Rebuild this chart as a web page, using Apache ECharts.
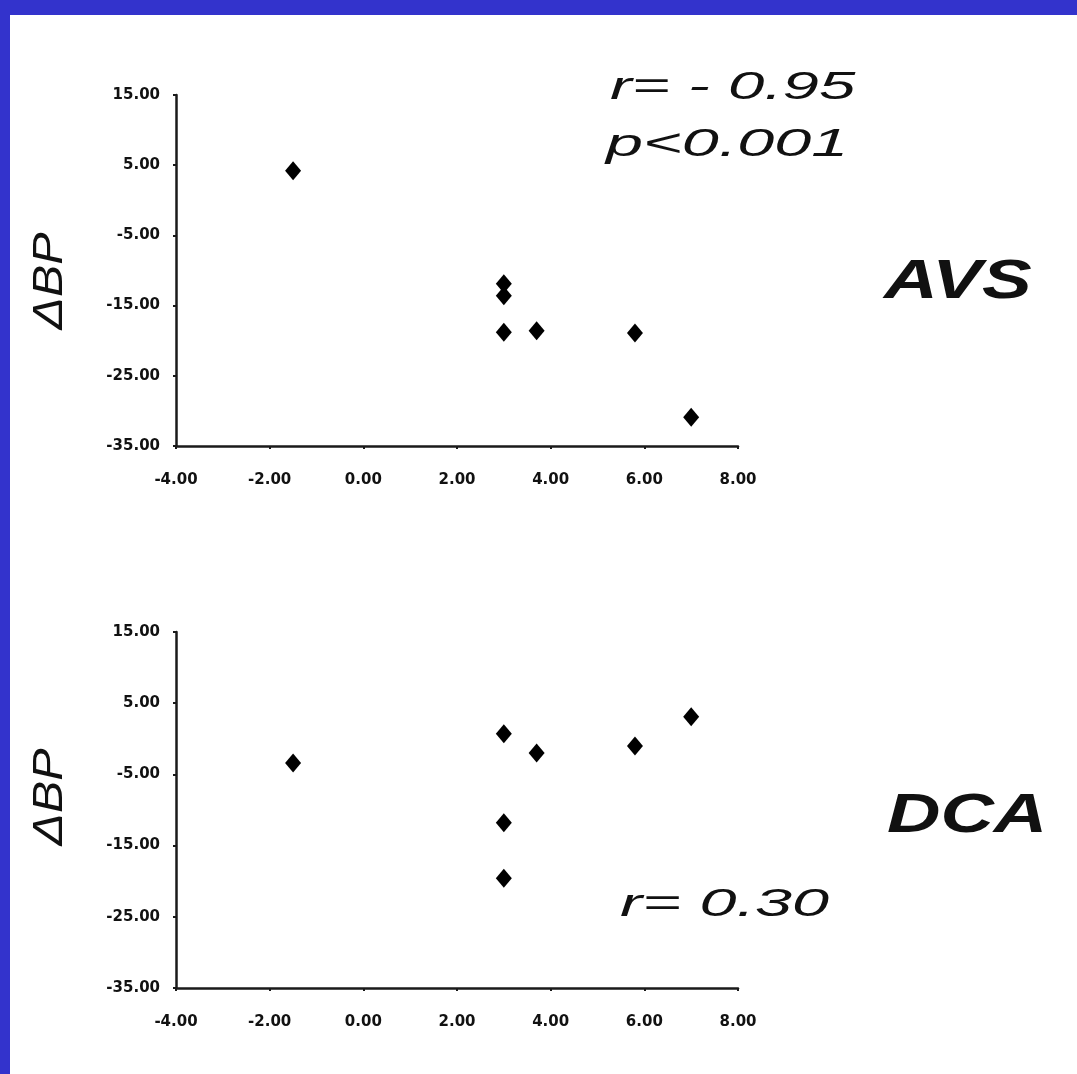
<!DOCTYPE html>
<html>
<head>
<meta charset="utf-8">
<script src="https://cdn.jsdelivr.net/npm/echarts@6/dist/echarts.min.js"></script>
<style>
html,body{margin:0;padding:0;background:#fff;}
#chart{width:1077px;height:1074px;}
</style>
</head>
<body>
<div id="chart"></div>
<script>
// ---- data ----
const xTicks = [-4, -2, 0, 2, 4, 6, 8];
const yTicks = [-35, -25, -15, -5, 5, 15];
const avsX = [-1.5, 3.0, 3.0, 3.0, 3.7, 5.8, 7.0];
const avsY = [4.2, -11.9, -13.6, -18.8, -18.6, -18.9, -30.9];
const dcaX = [-1.5, 3.0, 3.7, 5.8, 7.0, 3.0, 3.0];
const dcaY = [-3.4, 0.7, -2.0, -1.0, 3.1, -11.8, -19.6];
const yTitle = 'ΔBP';
const panelNames = ['AVS', 'DCA'];
const statsTop = ['r= - 0.95', 'p<0.001'];
const statsBottom = 'r= 0.30';

const blue = '#3333cc';
const axisColor = '#1a1a1a';
const fmt = v => Number(v).toFixed(2);

function xAxis(gi) {
  return {
    type: 'value', gridIndex: gi,
    min: xTicks[0], max: xTicks[xTicks.length - 1], interval: 2,
    axisLine: { show: true, onZero: false, lineStyle: { color: axisColor, width: 2.5 } },
    axisTick: { show: true, length: 3, lineStyle: { color: axisColor, width: 2 } },
    splitLine: { show: false },
    axisLabel: { formatter: fmt, margin: 27, color: '#111', fontFamily: 'DejaVu Sans', fontWeight: 'bold', fontSize: 15 }
  };
}
function yAxis(gi) {
  return {
    type: 'value', gridIndex: gi,
    min: yTicks[0], max: yTicks[yTicks.length - 1],
    axisLine: { show: true, onZero: false, lineStyle: { color: axisColor, width: 2.5 } },
    axisTick: { show: true, length: 3, customValues: yTicks, lineStyle: { color: axisColor, width: 2 } },
    splitLine: { show: false },
    axisLabel: { customValues: yTicks, formatter: fmt, margin: 16, color: '#111', fontFamily: 'DejaVu Sans', fontWeight: 'bold', fontSize: 15 }
  };
}
const zip = (xs, ys) => xs.map((x, i) => [x, ys[i]]);

const bigText = (text, x, y, sx, font) => ({
  type: 'text', x: x, y: y, scaleX: sx, z: 10,
  style: { text: text, font: font, fill: '#111', align: 'left', verticalAlign: 'middle' }
});
const statFont = 'italic 38px "Liberation Sans", Arial, sans-serif';
const nameFont = 'italic bold 56px "Liberation Sans", Arial, sans-serif';

const option = {
  backgroundColor: '#ffffff',
  animation: false,
  grid: [
    { left: 176, right: 339, top: 95, bottom: 628 },
    { left: 176, right: 339, top: 632, bottom: 86 }
  ],
  xAxis: [xAxis(0), xAxis(1)],
  yAxis: [yAxis(0), yAxis(1)],
  series: [
    { type: 'scatter', xAxisIndex: 0, yAxisIndex: 0, data: zip(avsX, avsY),
      symbol: 'diamond', symbolSize: [16, 19], itemStyle: { color: '#000', opacity: 1 } },
    { type: 'scatter', xAxisIndex: 1, yAxisIndex: 1, data: zip(dcaX, dcaY),
      symbol: 'diamond', symbolSize: [16, 19], itemStyle: { color: '#000', opacity: 1 } }
  ],
  graphic: [
    { type: 'rect', left: 0, top: 0, shape: { width: 1077, height: 15 }, style: { fill: blue }, z: 20 },
    { type: 'rect', left: 0, top: 0, shape: { width: 10, height: 1074 }, style: { fill: blue }, z: 20 },
    bigText(statsTop[0], 610, 88, 1.72, statFont),
    bigText(statsTop[1], 606, 145, 1.75, statFont),
    bigText(statsBottom, 620, 905, 1.75, statFont),
    bigText(panelNames[0], 884, 283, 1.33, nameFont),
    bigText(panelNames[1], 887, 817, 1.32, nameFont),
    { type: 'text', x: 50, y: 281, rotation: Math.PI / 2, scaleX: 1.15,
      style: { text: yTitle, font: 'italic 42px "Liberation Sans", Arial, sans-serif', fill: '#111', align: 'center', verticalAlign: 'middle' } },
    { type: 'text', x: 50, y: 797, rotation: Math.PI / 2, scaleX: 1.15,
      style: { text: yTitle, font: 'italic 42px "Liberation Sans", Arial, sans-serif', fill: '#111', align: 'center', verticalAlign: 'middle' } }
  ]
};
const chart = echarts.init(document.getElementById('chart'), null, { renderer: 'canvas' });
chart.setOption(option);
</script>
</body>
</html>
